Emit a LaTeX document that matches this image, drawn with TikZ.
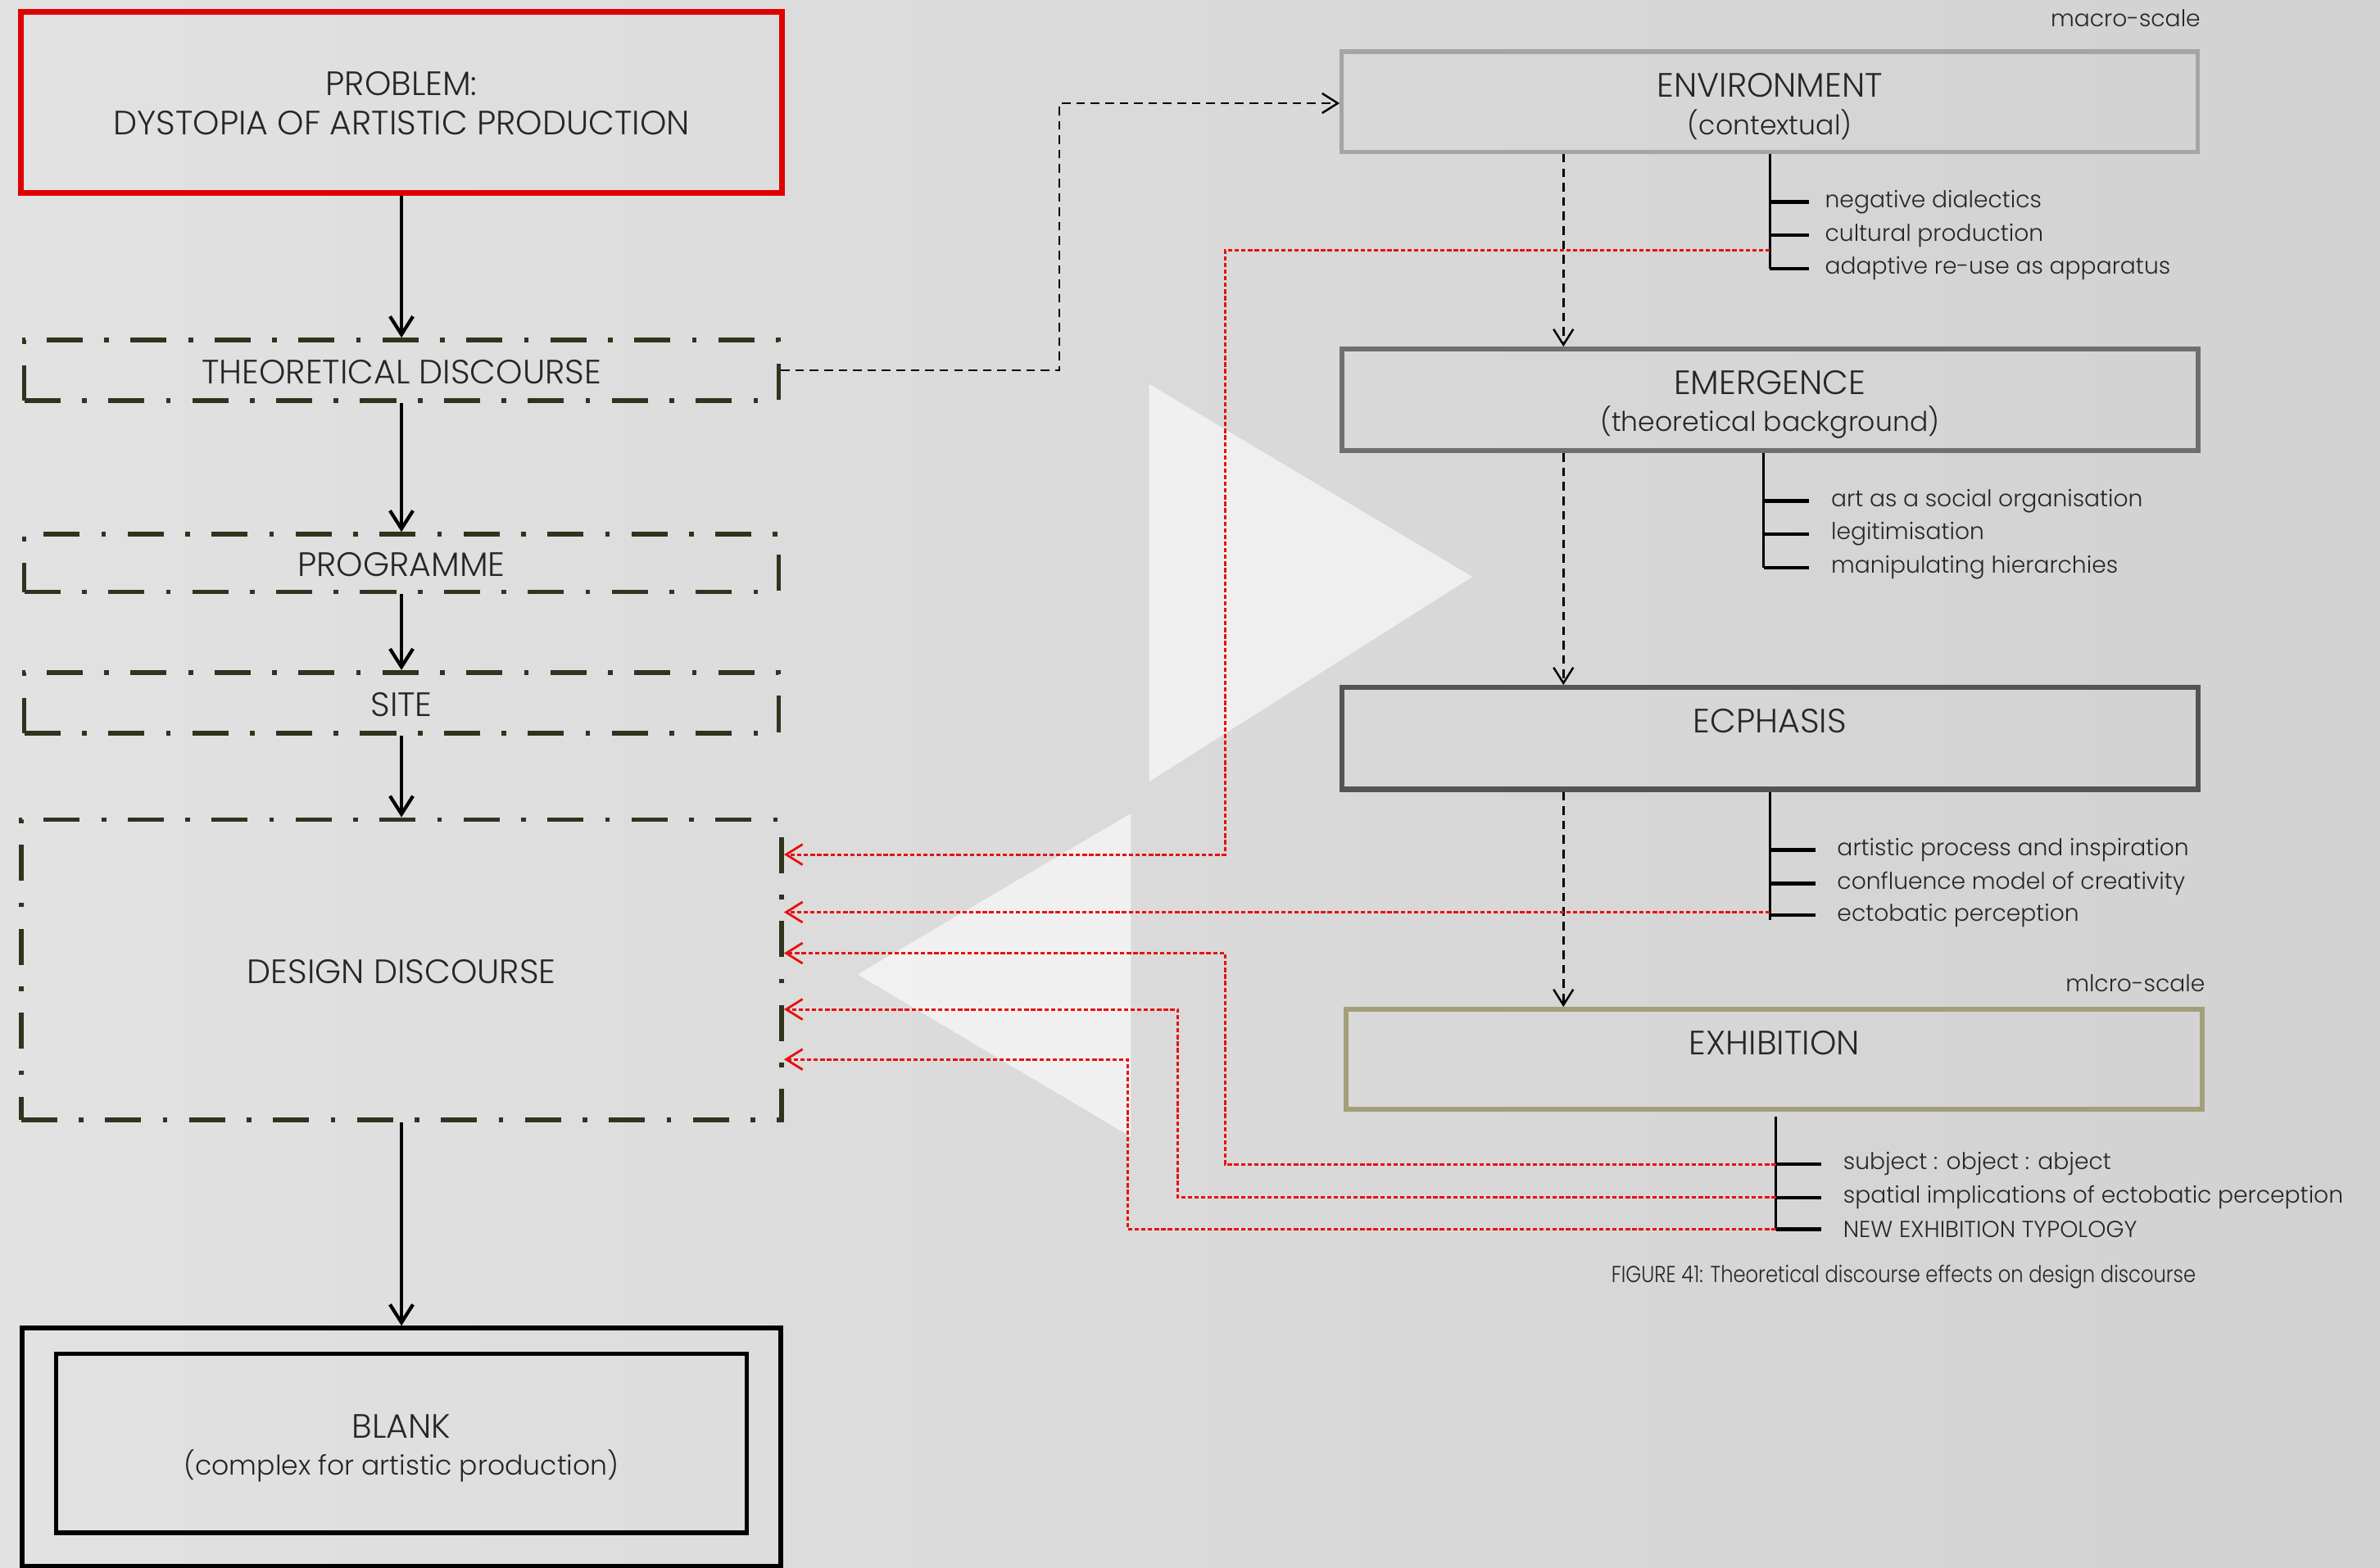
\documentclass[tikz,border=0pt]{standalone}
\usepackage{fontspec}
\setmainfont{Poppins}[UprightFont=* Light]
\newfontfamily\titlefont{Poppins}[UprightFont=* Light, FakeStretch=0.86]
\usetikzlibrary{arrows.meta,calc}

\definecolor{bgcol}{HTML}{D8D8D8}
\definecolor{probred}{HTML}{E00000}
\definecolor{olivedark}{HTML}{33321E}
\definecolor{envgray}{HTML}{A5A5A5}
\definecolor{emergray}{HTML}{6F6F6F}
\definecolor{ecphgray}{HTML}{545454}
\definecolor{exhikhaki}{HTML}{A39F7A}
\definecolor{txtcol}{HTML}{262626}
\definecolor{linkred}{HTML}{E81010}

\newcommand{\un}{0.0185cm}

\tikzset{
  box/.style={rectangle, inner sep=0pt, align=center, text=txtcol},
  probbox/.style={box, draw=probred, line width=2pt},
  ddbox/.style={box, draw=olivedark, line width=1.6pt,
    dash pattern=on 12.5pt off 7.5pt on 1.6pt off 7.5pt},
  scalebox/.style={box, line width=1.5pt},
  blankbox/.style={box, draw=black, line width=1.6pt},
  caps/.style={inner sep=0pt, align=center, text=txtcol,
    font=\fontsize{11.7}{13.7}\selectfont},
  sub/.style={inner sep=0pt, align=center, text=txtcol,
    font=\fontsize{9.4}{11}\selectfont},
  item/.style={inner sep=0pt, anchor=west, text=txtcol,
    font=\fontsize{8}{9}\selectfont},
  note/.style={inner sep=0pt, anchor=east, text=txtcol,
    font=\fontsize{8}{9}\selectfont},
  capt/.style={inner sep=0pt, anchor=east, text=txtcol,
    font=\titlefont\fontsize{8}{9}\selectfont},
  mainarrow/.style={line width=1.2pt, -{Straight Barb[length=2.2mm,width=2.8mm,line width=1.2pt]}},
  dasharrow/.style={line width=0.7pt, dash pattern=on 3pt off 2pt,
    -{Straight Barb[length=1.9mm,width=2.4mm,line width=0.7pt]}},
  redarrow/.style={draw=linkred, line width=0.85pt, dash pattern=on 1.5pt off 0.8pt,
    -{Straight Barb[length=2mm,width=2.5mm,line width=0.8pt]}},
  brk/.style={line width=0.8pt},
  brktick/.style={line width=1.3pt},
}

\begin{document}
\begin{tikzpicture}[x=\un, y=-\un]
\useasboundingbox (0,0) rectangle (1568,1033);
\shade[left color=bgcol!75!white, right color=bgcol!97!black] (0,0) rectangle (1568,1033);

% pale arrow-like triangles behind the links
\fill[white, opacity=0.6] (757,253) -- (970,380) -- (757,515) -- cycle;
\fill[white, opacity=0.6] (745,536) -- (745,749) -- (565,642) -- cycle;

% ---------- left column ----------
\node[probbox, minimum width=501*\un, minimum height=119*\un] (prob) at (264.5,67.5) {};
\node[caps] (probtxt) at (264.5,55) {PROBLEM:};
\node[caps] (probsub) at (264.5,81) {DYSTOPIA OF ARTISTIC PRODUCTION};
\node[ddbox, minimum width=497*\un, minimum height=40*\un] (theo) at (264.5,244) {};
\node[caps] (theotxt) at (264.5,245) {THEORETICAL DISCOURSE};
\node[ddbox, minimum width=497*\un, minimum height=38*\un] (prog) at (264.5,371) {};
\node[caps] (progtxt) at (264.5,372) {PROGRAMME};
\node[ddbox, minimum width=497*\un, minimum height=40*\un] (site) at (264.5,463) {};
\node[caps] (sitetxt) at (264.5,464) {SITE};
\node[ddbox, minimum width=501*\un, minimum height=198*\un] (design) at (264.5,639) {};
\node[caps] (designtxt) at (264.5,640) {DESIGN DISCOURSE};
\node[blankbox, minimum width=500*\un, minimum height=157*\un] (blankout) at (264.5,953.5) {};
\node[blankbox, minimum width=455*\un, minimum height=118*\un] (blankin) at (264.5,951) {};
\node[caps] (blanktxt) at (264.5,940) {BLANK};
\node[sub] (blanksub) at (264.5,966) {(complex for artistic production)};

\draw[mainarrow] (prob) -- (theo);
\draw[mainarrow] (theo) -- (prog);
\draw[mainarrow] (prog) -- (site);
\draw[mainarrow] (site) -- (design);
\draw[mainarrow] (design) -- (blankout);

% ---------- right column ----------
\node[note] (macro) at (1450,12) {macro-scale};
\node[scalebox, draw=envgray, minimum width=564*\un, minimum height=66*\un] (env) at (1166,67) {};
\node[caps] (envtxt) at (1166,56) {ENVIRONMENT};
\node[sub] (envsub) at (1166,82) {(contextual)};
\node[scalebox, draw=emergray, line width=1.7pt, minimum width=564*\un, minimum height=67*\un] (emer) at (1166,263.5) {};
\node[caps] (emertxt) at (1166,252) {EMERGENCE};
\node[sub] (emersub) at (1166,278) {(theoretical background)};
\node[scalebox, draw=ecphgray, line width=1.8pt, minimum width=564*\un, minimum height=67*\un] (ecph) at (1166,486.5) {};
\node[caps] (ecphtxt) at (1166,475) {ECPHASIS};
\node[note] (micro) at (1453,648) {mlcro-scale};
\node[scalebox, draw=exhikhaki, line width=1.7pt, minimum width=564*\un, minimum height=66*\un] (exhi) at (1169,698) {};
\node[caps] (exhitxt) at (1169,687) {EXHIBITION};

% theoretical discourse feeds the environment
\coordinate (k0) at (698,68);
\draw[dasharrow] (theo.east) -| (k0) -- (env.west |- k0);

% descending scale chain
\coordinate (dx) at (1030,0);
\draw[dasharrow] (env.south -| dx) -- (emer.north -| dx);
\draw[dasharrow] (emer.south -| dx) -- (ecph.north -| dx);
\draw[dasharrow] (ecph.south -| dx) -- (exhi.north -| dx);

% brackets of sub-themes
\coordinate (a1) at (1166,133); \coordinate (a2) at (1166,155); \coordinate (a3) at (1166,177);
\draw[brk] (env.south -| a1) -- (a3);
\foreach \p in {a1,a2,a3} \draw[brktick] (\p) -- ++(26,0);
\node[item] (a1t) at (1202,133) {negative dialectics};
\node[item] (a2t) at (1202,155) {cultural production};
\node[item] (a3t) at (1202,177) {adaptive re-use as apparatus};

\coordinate (b1) at (1162,330); \coordinate (b2) at (1162,352); \coordinate (b3) at (1162,374);
\draw[brk] (emer.south -| b1) -- (b3);
\foreach \p in {b1,b2,b3} \draw[brktick] (\p) -- ++(30,0);
\node[item] (b1t) at (1206,330) {art as a social organisation};
\node[item] (b2t) at (1206,352) {legitimisation};
\node[item] (b3t) at (1206,374) {manipulating hierarchies};

\coordinate (c1) at (1166,560); \coordinate (c2) at (1166,582); \coordinate (c3) at (1166,603);
\draw[brk] (ecph.south -| c1) -- ($(c3)+(0,3)$);
\foreach \p in {c1,c2,c3} \draw[brktick] (\p) -- ++(30,0);
\node[item] (c1t) at (1210,560) {artistic process and inspiration};
\node[item] (c2t) at (1210,582) {confluence model of creativity};
\node[item] (c3t) at (1210,603) {ectobatic perception};

\coordinate (d1) at (1170,767); \coordinate (d2) at (1170,789); \coordinate (d3) at (1170,810);
\draw[brk] ($(exhi.south -| d1)+(0,3)$) -- (d3);
\foreach \p in {d1,d2,d3} \draw[brktick] (\p) -- ++(30,0);
\node[item] (d1t) at (1214,767) {subject : object : abject};
\node[item] (d2t) at (1214,789) {spatial implications of ectobatic perception};
\node[item] (d3t) at (1214,810) {NEW EXHIBITION TYPOLOGY};

\node[capt] (caption) at (1447,841) {FIGURE 41: Theoretical discourse effects on design discourse};

% red links back into the design discourse
\coordinate (r1) at (1166,165); \coordinate (k1) at (807,563);
\draw[redarrow] (r1) -| (k1) -- (design.east |- k1);
\coordinate (r2) at (1166,601);
\draw[redarrow] (r2) -- (design.east |- r2);
\coordinate (k3) at (807,628);
\draw[redarrow] (d1) -| (k3) -- (design.east |- k3);
\coordinate (k4) at (776,665);
\draw[redarrow] (d2) -| (k4) -- (design.east |- k4);
\coordinate (k5) at (743,698);
\draw[redarrow] (d3) -| (k5) -- (design.east |- k5);
\end{tikzpicture}
\end{document}
